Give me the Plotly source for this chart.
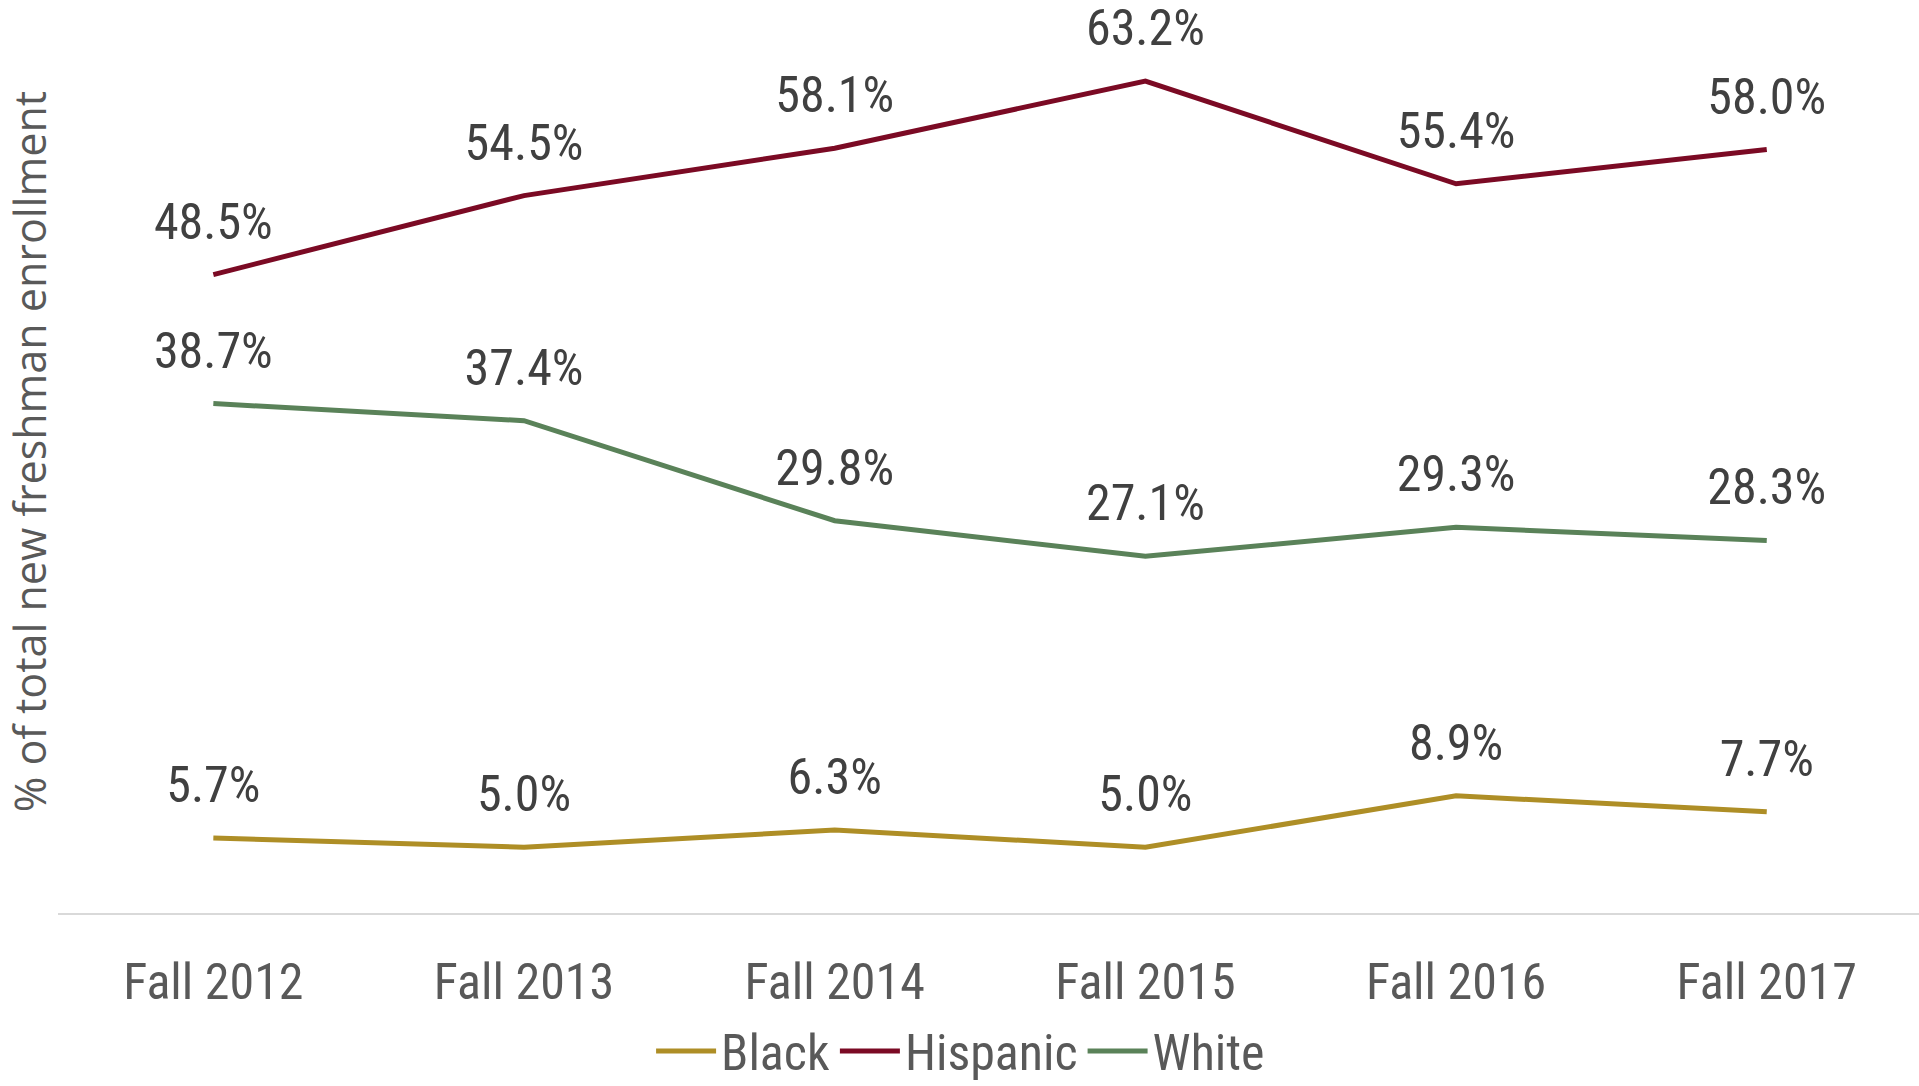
import plotly.graph_objects as go

categories = ["Fall 2012", "Fall 2013", "Fall 2014", "Fall 2015", "Fall 2016", "Fall 2017"]
black = [5.7, 5.0, 6.3, 5.0, 8.9, 7.7]
hispanic = [48.5, 54.5, 58.1, 63.2, 55.4, 58.0]
white = [38.7, 37.4, 29.8, 27.1, 29.3, 28.3]
y_title = "% of total new freshman enrollment"

series = [
    ("Black", black, "#AE8E26"),
    ("Hispanic", hispanic, "#7B0A24"),
    ("White", white, "#5A8259"),
]

FONT = "Liberation Sans Narrow, Roboto Condensed, Arial Narrow, Open Sans, sans-serif"

fig = go.Figure()
for name, vals, color in series:
    fig.add_trace(go.Scatter(
        x=categories, y=vals, name=name,
        mode="lines+markers+text",
        line=dict(color=color, width=5),
        marker=dict(size=36, color="rgba(0,0,0,0)"),
        text=[f"{v:.1f}%" for v in vals],
        textposition="top center",
        textfont=dict(family=FONT, size=50, color="#404040"),
        cliponaxis=False,
        hoverinfo="x+y+name",
    ))

fig.add_annotation(
    text=y_title, textangle=-90,
    xref="paper", yref="paper", x=-0.0155, y=0.5105,
    xanchor="center", yanchor="middle", showarrow=False, borderpad=0,
    font=dict(family="Open Sans, DejaVu Sans, sans-serif", size=43, color="#595959"),
)

fig.update_layout(
    width=1919, height=1086,
    margin=dict(l=58, r=0, t=10, b=173, autoexpand=False),
    paper_bgcolor="white", plot_bgcolor="white",
    showlegend=True,
    legend=dict(
        orientation="h", x=0.485, xanchor="center", y=-0.196, yanchor="bottom",
        font=dict(family=FONT, size=50, color="#595959"),
        itemwidth=60, borderwidth=0,
    ),
    xaxis=dict(
        type="category", range=[-0.5, 5.49],
        showgrid=False, showline=True, linecolor="#D9D9D9", linewidth=2,
        ticks="", tickfont=dict(family=FONT, size=50, color="#595959"),
        ticklabelstandoff=24, automargin=False,
    ),
    yaxis=dict(
        range=[0, 68.6], showgrid=False, showticklabels=False, zeroline=False,
        automargin=False,
    ),
)

fig.write_html("out.html", config={"displayModeBar": False},
               post_script="document.body.style.margin='0';")
